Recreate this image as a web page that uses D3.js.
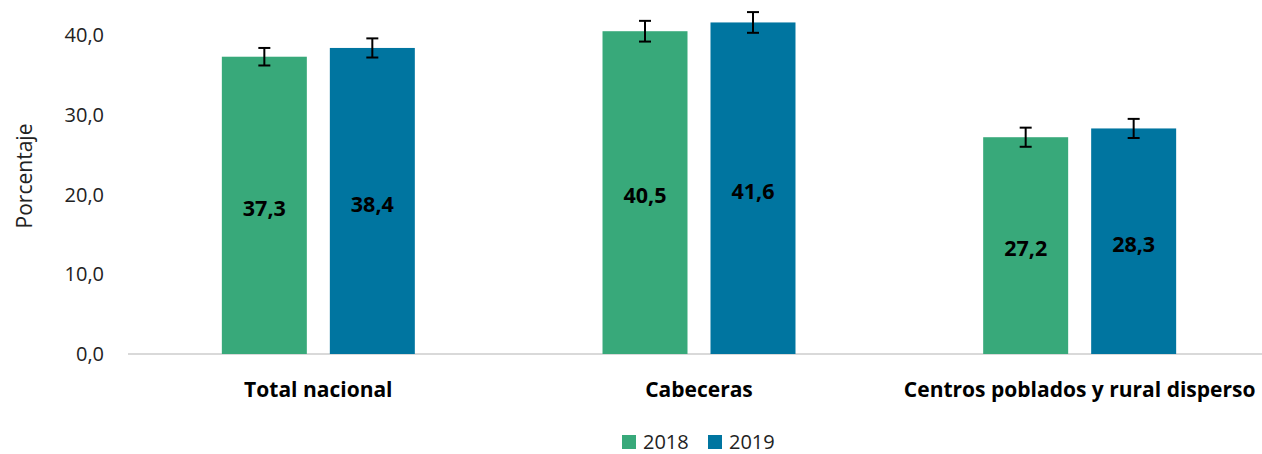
<!DOCTYPE html>
<html>
<head>
<meta charset="utf-8">
<script src="https://cdn.jsdelivr.net/npm/d3@7"></script>
<style>
  html, body { margin: 0; padding: 0; background: #fff; }
  svg { display: block; font-family: "Open Sans", "Noto Sans", sans-serif; }
</style>
</head>
<body>
<svg id="chart" width="1262" height="454"></svg>
<script>
const categories = ["Total nacional", "Cabeceras", "Centros poblados y rural disperso"];
const years = ["2018", "2019"];
const values2018 = [37.3, 40.5, 27.2];
const values2019 = [38.4, 41.6, 28.3];
const err2018 = [1.1, 1.3, 1.2];
const err2019 = [1.2, 1.3, 1.2];
const yTicks = [0, 10, 20, 30, 40];
const colors = ["#38A97A", "#0075A0"];

const seriesValues = [values2018, values2019];
const seriesErr = [err2018, err2019];
const data = categories.map((c, i) => ({
  cat: c,
  items: years.map((y, j) => ({ year: y, value: seriesValues[j][i], err: seriesErr[j][i], color: colors[j] }))
}));

const svg = d3.select("#chart");
const locale = d3.formatLocale({ decimal: ",", thousands: ".", grouping: [3], currency: ["$", ""] });
const fmt = locale.format(".1f");

const x0 = d3.scaleBand().domain(categories).range([128, 1270]).paddingInner(0).paddingOuter(0);
const x1 = d3.scaleBand().domain(years).range([0, x0.bandwidth()]).paddingInner(0.213).paddingOuter(0.869);
const y = d3.scaleLinear().domain([0, 40]).range([354, 35.2]);

// baseline
svg.append("line")
  .attr("x1", 128).attr("x2", 1262)
  .attr("y1", y(0)).attr("y2", y(0))
  .attr("stroke", "#d9d9d9").attr("stroke-width", 2);

// y axis labels
const yAxis = d3.axisLeft(y).tickValues(yTicks).tickFormat(fmt).tickSize(0).tickPadding(0);
const gy = svg.append("g").attr("transform", "translate(104,0)").call(yAxis);
gy.select(".domain").remove();
gy.selectAll("text").attr("font-size", 20).attr("fill", "#222").attr("font-family", "\"Open Sans\", sans-serif");

// y title
svg.append("text")
  .attr("transform", "translate(32,176) rotate(-90)")
  .attr("text-anchor", "middle")
  .attr("font-size", 21)
  .attr("fill", "#222")
  .text("Porcentaje");

// groups
const groups = svg.selectAll("g.grp").data(data).join("g")
  .attr("class", "grp")
  .attr("transform", d => `translate(${x0(d.cat)},0)`);

groups.selectAll("rect").data(d => d.items).join("rect")
  .attr("x", d => x1(d.year))
  .attr("width", x1.bandwidth())
  .attr("y", d => y(d.value))
  .attr("height", d => y(0) - y(d.value))
  .attr("fill", d => d.color);

// error bars
const cap = 6;
groups.selectAll("g.err").data(d => d.items).join("g")
  .attr("class", "err")
  .each(function(d) {
    const g = d3.select(this);
    const cx = x1(d.year) + x1.bandwidth() / 2;
    const top = y(d.value + d.err), bot = y(d.value - d.err);
    g.append("line").attr("x1", cx).attr("x2", cx).attr("y1", top).attr("y2", bot);
    g.append("line").attr("x1", cx - cap).attr("x2", cx + cap).attr("y1", top).attr("y2", top);
    g.append("line").attr("x1", cx - cap).attr("x2", cx + cap).attr("y1", bot).attr("y2", bot);
    g.selectAll("line").attr("stroke", "#000").attr("stroke-width", 2);
  });

// value labels
groups.selectAll("text.val").data(d => d.items).join("text")
  .attr("class", "val")
  .attr("x", d => x1(d.year) + x1.bandwidth() / 2)
  .attr("y", d => (y(d.value) + y(0)) / 2 + 3)
  .attr("dy", "0.35em")
  .attr("text-anchor", "middle")
  .attr("font-size", 21.5)
  .attr("font-weight", "bold")
  .attr("fill", "#000")
  .text(d => fmt(d.value));

// category labels
svg.selectAll("text.cat").data(categories).join("text")
  .attr("class", "cat")
  .attr("x", d => x0(d) + x0.bandwidth() / 2)
  .attr("y", 397)
  .attr("text-anchor", "middle")
  .attr("font-size", 21)
  .attr("font-weight", "bold")
  .attr("fill", "#000")
  .text(d => d);

// legend
const legend = svg.append("g");
const legendX = [622, 708];
years.forEach((yr, i) => {
  legend.append("rect").attr("x", legendX[i]).attr("y", 435).attr("width", 14).attr("height", 14).attr("fill", colors[i]);
  legend.append("text").attr("x", legendX[i] + 21).attr("y", 449)
    .attr("font-size", 20).attr("fill", "#222").text(yr);
});
</script>
</body>
</html>
